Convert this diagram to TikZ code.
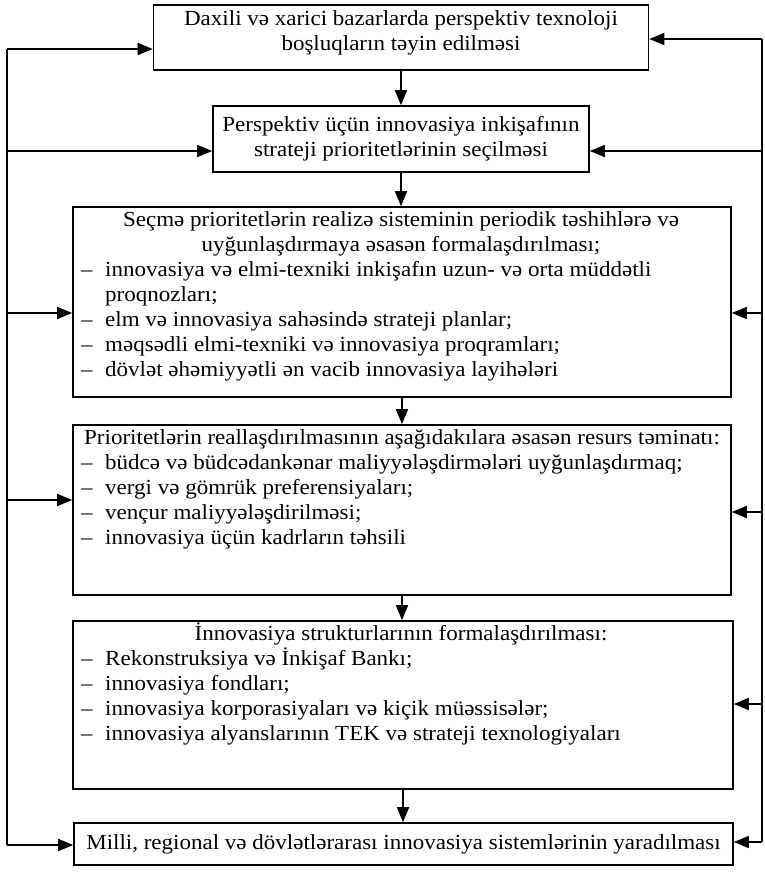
\documentclass[tikz,border=0pt]{standalone}
\usepackage{fontspec}
\setmainfont{Liberation Serif}[FakeStretch=1.07]
\usetikzlibrary{arrows.meta}
\begin{document}
\begin{tikzpicture}[x=1pt,y=-1pt,
  box/.style={draw, line width=1.6pt, inner sep=0pt},
  txt/.style={inner sep=0pt, font=\fontsize{21.5}{25}\selectfont},
  conn/.style={line width=1.6pt},
  arr/.style={line width=1.6pt, -{Triangle[length=15pt,width=12pt]}}]
\useasboundingbox (0,0) rectangle (765,873);
% boxes
\node[box, minimum width=495pt, minimum height=65pt] (b1) at (401,37.5) {};
\node[box, minimum width=376pt, minimum height=66pt] (b2) at (401,139) {};
\node[box, minimum width=658pt, minimum height=190pt] (b3) at (402,302) {};
\node[box, minimum width=658pt, minimum height=170pt] (b4) at (402,510) {};
\node[box, minimum width=660pt, minimum height=168pt] (b5) at (403,705) {};
\node[box, minimum width=659pt, minimum height=42pt] (b6) at (403.5,844) {};
% texts
\node[txt, align=center] (t1) at (401,33) {Daxili və xarici bazarlarda perspektiv texnoloji\\boşluqların təyin edilməsi};
\node[txt, align=center] (t2) at (b2.center) {Perspektiv üçün innovasiya inkişafının\\strateji prioritetlərinin seçilməsi};
\node[txt, anchor=base] (t3a) at (401,226) {Seçmə prioritetlərin realizə sisteminin periodik təshihlərə və};
\node[txt, anchor=base] (t3b) at (401,251) {uyğunlaşdırmaya əsasən formalaşdırılması;};
\foreach \yy/\dd/\tt [count=\i] in {276/–/{innovasiya və elmi-texniki inkişafın uzun- və orta müddətli},
  301//{proqnozları;},
  326/–/{elm və innovasiya sahəsində strateji planlar;},
  351/–/{məqsədli elmi-texniki və innovasiya proqramları;},
  376/–/{dövlət əhəmiyyətli ən vacib innovasiya layihələri}}{
  \node[txt, anchor=base west] (d3\i) at (81,\yy) {\dd};
  \node[txt, anchor=base west] (i3\i) at (105,\yy) {\tt};
}
\node[txt, anchor=base west] (t4a) at (84,444) {Prioritetlərin reallaşdırılmasının aşağıdakılara əsasən resurs təminatı:};
\foreach \yy/\tt [count=\i] in {469/{büdcə və büdcədankənar maliyyələşdirmələri uyğunlaşdırmaq;},
  494/{vergi və gömrük preferensiyaları;},
  519/{vençur maliyyələşdirilməsi;},
  544/{innovasiya üçün kadrların təhsili}}{
  \node[txt, anchor=base west] (d4\i) at (81,\yy) {–};
  \node[txt, anchor=base west] (i4\i) at (105,\yy) {\tt};
}
\node[txt, anchor=base] (t5a) at (401,640) {İnnovasiya strukturlarının formalaşdırılması:};
\foreach \yy/\tt [count=\i] in {665/{Rekonstruksiya və İnkişaf Bankı;},
  690/{innovasiya fondları;},
  715/{innovasiya korporasiyaları və kiçik müəssisələr;},
  740/{innovasiya alyanslarının TEK və strateji texnologiyaları}}{
  \node[txt, anchor=base west] (d5\i) at (81,\yy) {–};
  \node[txt, anchor=base west] (i5\i) at (105,\yy) {\tt};
}
\node[txt] (t6) at (b6.center) {Milli, regional və dövlətlərarası innovasiya sistemlərinin yaradılması};
% vertical arrows
\draw[arr] (b1.south) -- (b1.south |- b2.north);
\draw[arr] (b2.south) -- (b2.south |- b3.north);
\draw[arr] (b3.south) -- (b3.south |- b4.north);
\draw[arr] (b4.south) -- (b4.south |- b5.north);
\draw[arr] (b5.south) -- (b5.south |- b6.north);
% left feedback line
\coordinate (L1) at (7,49);
\coordinate (L2) at (7,151);
\coordinate (L3) at (7,313);
\coordinate (L4) at (7,500);
\coordinate (L6) at (7,845);
\draw[conn] (L1) -- (L6);
\draw[arr] (L1) -- (b1.west |- L1);
\draw[arr] (L2) -- (b2.west |- L2);
\draw[arr] (L3) -- (b3.west |- L3);
\draw[arr] (L4) -- (b4.west |- L4);
\draw[arr] (L6) -- (b6.west |- L6);
% right feedback line
\coordinate (R1) at (762,39);
\coordinate (R2) at (762,151);
\coordinate (R3) at (762,313);
\coordinate (R4) at (762,512);
\coordinate (R5) at (762,704);
\coordinate (R6) at (762,842);
\draw[conn] (R1) -- (R6);
\draw[arr] (R1) -- (b1.east |- R1);
\draw[arr] (R2) -- (b2.east |- R2);
\draw[arr] (R3) -- (b3.east |- R3);
\draw[arr] (R4) -- (b4.east |- R4);
\draw[arr] (R5) -- (b5.east |- R5);
\draw[arr] (R6) -- (b6.east |- R6);
\end{tikzpicture}
\end{document}
